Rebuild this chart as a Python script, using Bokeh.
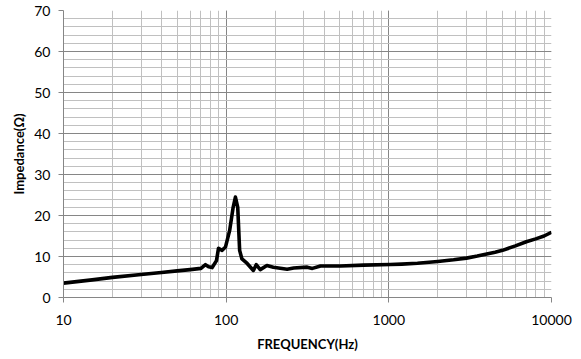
from bokeh.plotting import figure
from bokeh.models import SingleIntervalTicker, LogTicker, Range1d, PrintfTickFormatter
from bokeh.embed import file_html
from bokeh.resources import INLINE

freq = [10, 15, 20, 30, 40, 50, 60, 70, 74.6, 78, 82, 87.2, 89.7, 94.5, 99, 105,
        110.4, 114, 117.8, 121, 125, 134.6, 147, 153, 162, 178, 195, 237, 260,
        315, 339, 380, 505, 700, 1020, 1200, 1500, 2000, 2500, 3000, 3500,
        4000, 4500, 5000, 6000, 7000, 8000, 9000, 10000]
impedance = [3.5, 4.3, 4.9, 5.6, 6.1, 6.5, 6.8, 7.1, 8.0, 7.5, 7.3, 9.0, 12.0,
             11.5, 12.3, 16.3, 22.0, 24.5, 22.0, 11.5, 9.4, 8.3, 6.6, 8.0, 6.8,
             7.8, 7.4, 6.9, 7.2, 7.4, 7.1, 7.7, 7.7, 7.9, 8.05, 8.15, 8.35, 8.8,
             9.2, 9.6, 10.1, 10.6, 11.05, 11.5, 12.6, 13.6, 14.3, 15.0, 15.9]

p = figure(width=581, height=359, x_axis_type="log",
           x_range=Range1d(10, 10000), y_range=Range1d(0, 70),
           output_backend="svg", toolbar_location=None,
           min_border_left=63, min_border_right=30, min_border_top=10,
           min_border_bottom=62)
p.outline_line_color = None
p.background_fill_color = "white"
p.border_fill_color = "white"

p.line(freq, impedance, line_color="black", line_width=3.6, line_join="round")

p.xaxis.ticker = LogTicker(num_minor_ticks=10, desired_num_ticks=4)
p.xaxis.formatter = PrintfTickFormatter(format="%d")
p.yaxis.ticker = SingleIntervalTicker(interval=10, num_minor_ticks=5)

for ax in (p.xaxis, p.yaxis):
    ax.axis_line_color = "#868686"
    ax.major_tick_line_color = "#868686"
    ax.minor_tick_line_color = None
    ax.major_tick_out = 5
    ax.major_tick_in = 0
    ax.major_label_text_font = "Lato"
    ax.major_label_text_font_size = "14px"
    ax.major_label_text_color = "black"
    ax.axis_label_text_font = "Lato"
    ax.axis_label_text_font_size = "13px"
    ax.axis_label_text_font_style = "bold"
    ax.axis_label_text_color = "black"

p.xaxis.axis_label = "FREQUENCY(Hz)"
p.yaxis.axis_label = "Impedance(Ω)"
p.xaxis.major_label_standoff = 12
p.yaxis.major_label_standoff = 8
p.xaxis.axis_label_standoff = 8
p.yaxis.axis_label_standoff = 4

for g in (p.xgrid, p.ygrid):
    g.grid_line_color = "#868686"
    g.grid_line_width = 1
    g.minor_grid_line_color = "#c0c0c0"
    g.minor_grid_line_width = 1

open("out.html", "w").write(file_html(p, INLINE))
